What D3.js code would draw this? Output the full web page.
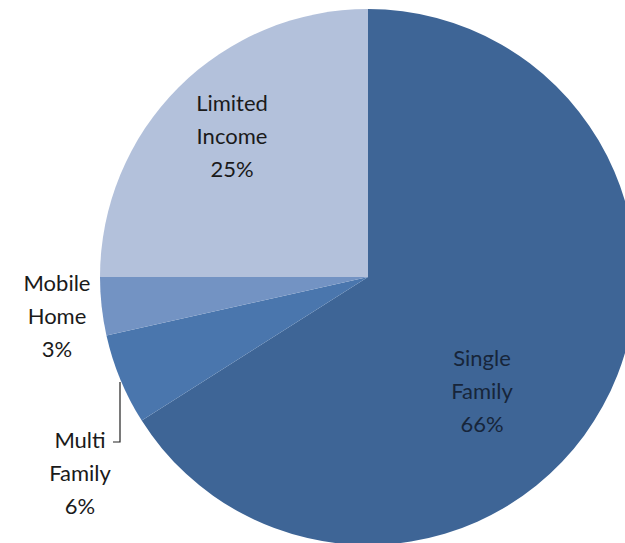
<!DOCTYPE html>
<html><head><meta charset="utf-8">
<script src="https://cdn.jsdelivr.net/npm/d3@7"></script>
<style>html,body{margin:0;padding:0;background:#fff;overflow:hidden}</style>
</head><body>
<svg id="c" width="625" height="543"></svg>
<script>
const categories = ["Single Family", "Multi Family", "Mobile Home", "Limited Income"];
const values = [66.0, 5.5, 3.5, 25.0];
const labelLines = [["Single","Family","66%"],["Multi","Family","6%"],["Mobile","Home","3%"],["Limited","Income","25%"]];
const colors = ["#3e6596", "#4a76ad", "#7393c3", "#b3c1db"];

const svg = d3.select("#c");
const cx = 368, cy = 277, R = 268;
const pie = d3.pie().sort(null).value(d => d)(values);
const arc = d3.arc().innerRadius(0).outerRadius(R);
const g = svg.append("g").attr("transform", `translate(${cx},${cy})`);
g.selectAll("path").data(pie).enter().append("path")
  .attr("d", arc).attr("fill", (d,i) => colors[i])
  .attr("stroke", "none");

// label anchor points (layout, not data)
const labelPos = [[482, 358], [80, 440], [57, 283], [232, 103]];
const lh = 33;
labelLines.forEach((lines, i) => {
  const t = svg.append("text")
    .attr("font-family", "Lato, 'Open Sans', sans-serif")
    .attr("font-size", 22)
    .attr("fill", i === 0 ? "#17253a" : "#1a1a1a")
    .attr("text-anchor", "middle");
  lines.forEach((s, k) => {
    t.append("tspan").attr("x", labelPos[i][0]).attr("y", labelPos[i][1] + k*lh + 8).text(s);
  });
});
// leader line for Multi Family
svg.append("path").attr("d", "M120,382 L120,442 L113,442")
  .attr("fill", "none").attr("stroke", "#222").attr("stroke-width", 1.2);
</script>
</body></html>
